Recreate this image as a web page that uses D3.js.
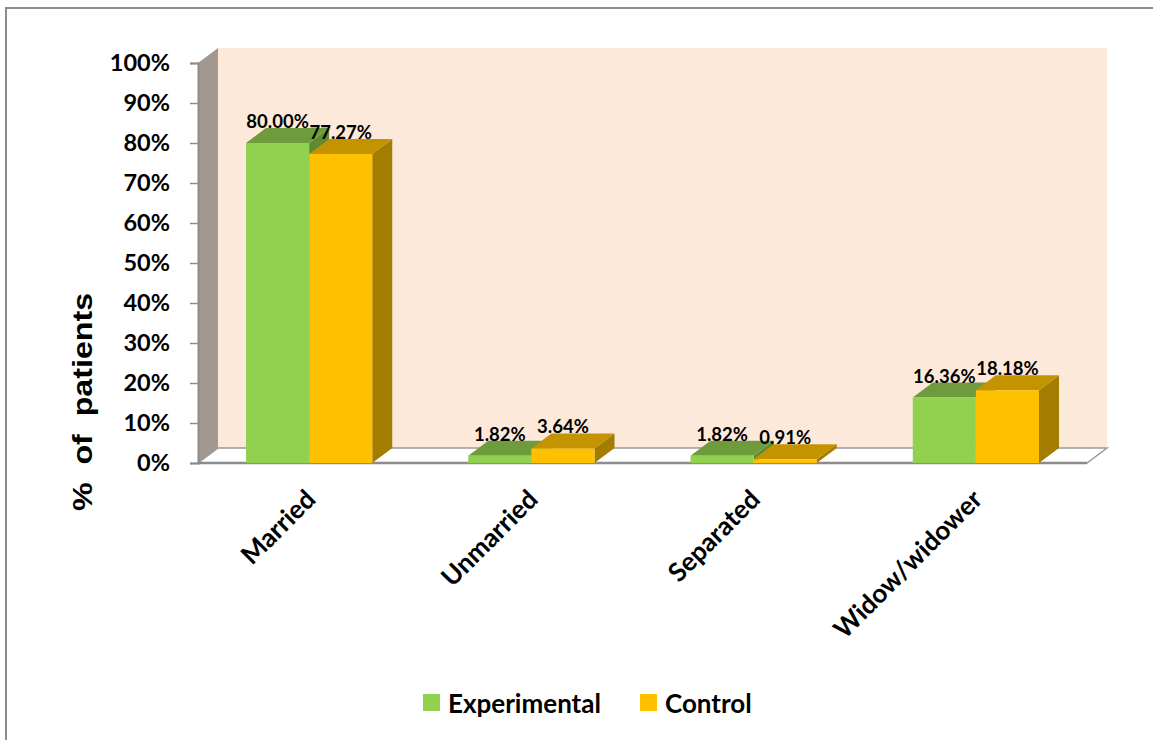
<!DOCTYPE html>
<html><head><meta charset="utf-8">
<script src="https://cdn.jsdelivr.net/npm/d3@7"></script>
<style>body{margin:0;background:#fff}svg{display:block}</style>
</head><body>
<svg id="c" width="1153" height="740"></svg>
<script>
const categories = ["Married", "Unmarried", "Separated", "Widow/widower"];
const seriesNames = ["Experimental", "Control"];
const experimental = [0.80, 0.0182, 0.0182, 0.1636];
const control = [0.7727, 0.0364, 0.0091, 0.1818];
const valueLabels = [["80.00%", "1.82%", "1.82%", "16.36%"], ["77.27%", "3.64%", "0.91%", "18.18%"]];
const yTicks = [0, 0.1, 0.2, 0.3, 0.4, 0.5, 0.6, 0.7, 0.8, 0.9, 1.0];

const colors = {
  Experimental: {front: "#92D050", top: "#6E9B3C", side: "#5E8A30"},
  Control: {front: "#FFC000", top: "#C49300", side: "#A37C00"}
};
const DX = 20, DY = -15;
const pLeft = 198, pRight = 1087, pBottom = 463, pTop = 63;
const FONT = "Lato, 'Open Sans', sans-serif";

const svg = d3.select("#c");
svg.append("rect").attr("x", 6).attr("y", 8).attr("width", 1200).attr("height", 800)
  .attr("fill", "#fff").attr("stroke", "#8c8c8c").attr("stroke-width", 2);

const y = d3.scaleLinear().domain([0, 1]).range([pBottom, pTop]);
const x0 = d3.scaleBand().domain(categories).range([pLeft, pRight]).paddingInner(0.432).paddingOuter(0.216);
const x1 = d3.scaleBand().domain(seriesNames).range([0, x0.bandwidth()]);

const poly = pts => "M" + pts.map(p => p.join(",")).join("L") + "Z";

// back wall
svg.append("path").attr("d", poly([[pLeft + DX, pTop + DY], [pRight + DX, pTop + DY], [pRight + DX, pBottom + DY], [pLeft + DX, pBottom + DY]]))
  .attr("fill", "#FDE9DA");
// side wall
svg.append("path").attr("d", poly([[pLeft, pTop], [pLeft + DX, pTop + DY], [pLeft + DX, pBottom + DY], [pLeft, pBottom]]))
  .attr("fill", "#A29890");
// floor
svg.append("path").attr("d", poly([[pLeft, pBottom], [pRight, pBottom], [pRight + DX, pBottom + DY], [pLeft + DX, pBottom + DY]]))
  .attr("fill", "#fff").attr("stroke", "#9a9a9a").attr("stroke-width", 1.5);
svg.append("line").attr("x1", pLeft).attr("x2", pRight).attr("y1", pBottom).attr("y2", pBottom)
  .attr("stroke", "#8c8c8c").attr("stroke-width", 2.5);

// y axis
const yAxis = d3.axisLeft(y).tickValues(yTicks).tickFormat(d3.format(".0%")).tickSize(8).tickPadding(20);
const ga = svg.append("g").attr("transform", `translate(${pLeft},0)`).call(yAxis);
ga.select(".domain").attr("stroke", "#8c8c8c").attr("stroke-width", 2);
ga.selectAll(".tick line").attr("stroke", "#8c8c8c").attr("stroke-width", 1.5);
ga.selectAll(".tick text").attr("font-family", FONT).attr("font-weight", "bold")
  .attr("font-size", 23.5).attr("fill", "#000");

// bars
const data = categories.map((c, i) => ({c, vals: [
  {s: "Experimental", v: experimental[i], lab: valueLabels[0][i]},
  {s: "Control", v: control[i], lab: valueLabels[1][i]}
]}));
const gBars = svg.append("g");
data.forEach(d => {
  d.vals.forEach(b => {
    const xl = x0(d.c) + x1(b.s), xr = xl + x1.bandwidth();
    const yt = y(b.v), yb = y(0);
    const col = colors[b.s];
    gBars.append("path").attr("d", poly([[xr, yt], [xr + DX, yt + DY], [xr + DX, yb + DY], [xr, yb]])).attr("fill", col.side);
    gBars.append("path").attr("d", poly([[xl, yt], [xr, yt], [xr + DX, yt + DY], [xl + DX, yt + DY]])).attr("fill", col.top);
    gBars.append("rect").attr("x", xl).attr("y", yt).attr("width", xr - xl).attr("height", yb - yt).attr("fill", col.front);
  });
});
data.forEach(d => {
  d.vals.forEach(b => {
    const xc = x0(d.c) + x1(b.s) + x1.bandwidth() / 2;
    svg.append("text").attr("x", xc).attr("y", y(b.v) + DY).attr("text-anchor", "middle")
      .attr("font-family", FONT).attr("font-weight", "bold").attr("font-size", 18.5)
      .attr("fill", "#000").text(b.lab);
  });
});

// x labels
categories.forEach(c => {
  const xc = x0(c) + x0.bandwidth() / 2;
  svg.append("text").attr("transform", `translate(${xc + 8},${pBottom + 38}) rotate(-45)`)
    .attr("text-anchor", "end").attr("font-family", FONT).attr("font-weight", "bold")
    .attr("font-size", 26).attr("fill", "#000").text(c);
});

// y title
svg.append("text").attr("transform", "translate(92,402) rotate(-90) scale(1.15,1)").attr("text-anchor", "middle")
  .attr("font-family", "'Liberation Sans', Arial, sans-serif").attr("font-weight", "bold").attr("font-size", 28)
  .attr("fill", "#000").style("white-space", "pre").text("%  of  patients");

// legend
const legX = [423, 640];
seriesNames.forEach((s, i) => {
  svg.append("rect").attr("x", legX[i]).attr("y", 694).attr("width", 17).attr("height", 17).attr("fill", colors[s].front);
  svg.append("text").attr("x", legX[i] + 25).attr("y", 713).attr("font-family", FONT)
    .attr("font-weight", "bold").attr("font-size", 26).attr("fill", "#000").text(s);
});
</script>
</body></html>
